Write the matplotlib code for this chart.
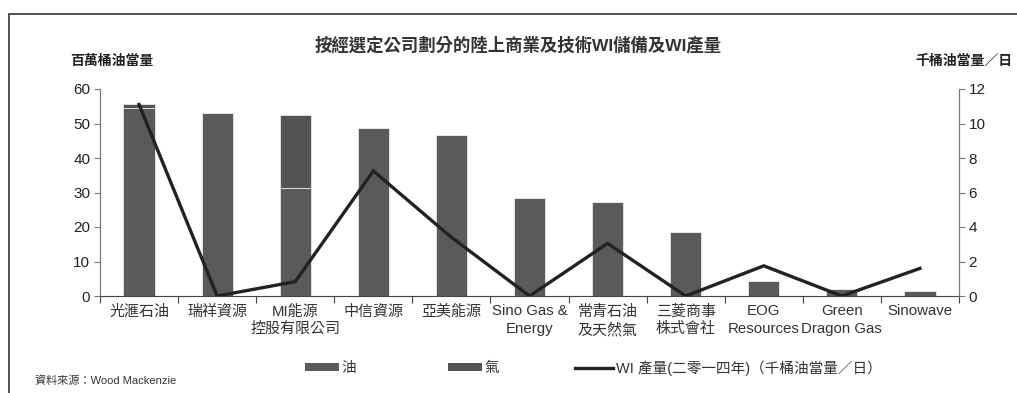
import matplotlib
matplotlib.use("Agg")
import matplotlib.pyplot as plt
from matplotlib.patches import Rectangle, Patch
from matplotlib.lines import Line2D
import numpy as np

plt.rcParams['font.family'] = ['Liberation Sans', 'Noto Sans CJK TC', 'DejaVu Sans']

companies = ['光滙石油', '瑞祥資源', 'MI能源\n控股有限公司', '中信資源', '亞美能源',
             'Sino Gas &\nEnergy', '常青石油\n及天然氣', '三菱商事\n株式會社',
             'EOG\nResources', 'Green\nDragon Gas', 'Sinowave']
oil = [54.6, 52.9, 31.2, 48.8, 46.6, 28.3, 27.2, 18.5, 4.4, 2.0, 1.4]
gas = [1.0, 0.0, 21.3, 0.0, 0.0, 0.0, 0.0, 0.0, 0.0, 0.0, 0.0]
production = [11.1, 0.0, 0.83, 7.25, 3.4, 0.0, 3.05, 0.0, 1.75, 0.0, 1.6]

left_ticks = [0, 10, 20, 30, 40, 50, 60]
right_ticks = [0, 2, 4, 6, 8, 10, 12]

oil_color = '#5a5a5a'
gas_color = '#545454'
line_color = '#222222'
spine_color = '#7a7a7a'

W, H = 1017, 393
fig = plt.figure(figsize=(W / 100, H / 100), dpi=100)
ax = fig.add_axes([100 / W, 1 - 296 / H, 859 / W, 207 / H])
ax2 = ax.twinx()

x = np.arange(len(companies))
ax.bar(x, oil, width=0.4, color=oil_color, edgecolor='#e8e8e8', linewidth=0.6)
ax.bar(x, gas, width=0.4, bottom=oil, color=gas_color, edgecolor='#e8e8e8', linewidth=0.6)

ax2.plot(x, production, color=line_color, linewidth=2.4, solid_joinstyle='miter')

ax.set_xlim(-0.5, len(companies) - 0.5)
ax.set_ylim(0, 60)
ax2.set_ylim(0, 12)
ax.set_yticks(left_ticks)
ax2.set_yticks(right_ticks)

# category boundary ticks, labels centred under each bar
ax.set_xticks(np.arange(-0.5, len(companies)), minor=False)
ax.set_xticklabels([])
ax.set_xticks(x, minor=True)
ax.set_xticklabels(companies, minor=True, fontsize=10.8, color='#333333', linespacing=1.3)
ax.tick_params(axis='x', which='minor', length=0, pad=6)
ax.tick_params(axis='x', which='major', length=5, direction='out', color='#444444')

ax.tick_params(axis='y', length=4, direction='out', color=spine_color, labelsize=11,
               labelcolor='#222222', pad=3)
ax2.tick_params(axis='y', length=4, direction='out', color=spine_color, labelsize=11,
                labelcolor='#222222', pad=3)

for a in (ax, ax2):
    a.spines['top'].set_visible(False)
    a.spines['left'].set_color(spine_color)
    a.spines['right'].set_color(spine_color)
    a.spines['bottom'].set_color('#444444')
ax2.spines['bottom'].set_visible(False)

fig.text(0.51, 1 - 44 / H, '按經選定公司劃分的陸上商業及技術WI儲備及WI產量', ha='center', va='center',
         fontsize=12.5, fontweight='bold', color='#333333')
fig.text(70 / W, 1 - 61 / H, '百萬桶油當量', ha='left', va='center', fontsize=10,
         fontweight='bold', color='#222222')
fig.text(1012 / W, 1 - 61 / H, '千桶油當量／日', ha='right', va='center', fontsize=10,
         fontweight='bold', color='#222222')

# legend entries placed individually along the bottom
legend_items = [
    (Patch(facecolor=oil_color, edgecolor='none'), '油', 305, 2.3),
    (Patch(facecolor=gas_color, edgecolor='none'), '氣', 448, 2.3),
    (Line2D([0], [0], color=line_color, linewidth=2.4), 'WI 產量(二零一四年)（千桶油當量／日）', 575, 2.6),
]
for handle, label, x0, hl in legend_items:
    fig.legend([handle], [label], loc='center left', bbox_to_anchor=(x0 / W, 1 - 368 / H),
               frameon=False, fontsize=10.5, handlelength=hl, handleheight=0.5,
               handletextpad=0.2, borderpad=0, borderaxespad=0, labelcolor='#333333')

fig.text(35 / W, 1 - 381 / H, '資料來源：Wood Mackenzie', ha='left', va='center', fontsize=8,
         color='#333333')

# outer frame around the chart
fig.patches.append(Rectangle((9 / W, -0.05), 1.1, 1.05 - 14 / H, transform=fig.transFigure,
                             fill=False, edgecolor='#333333', linewidth=1.2))

fig.savefig('out.png', dpi=100)
